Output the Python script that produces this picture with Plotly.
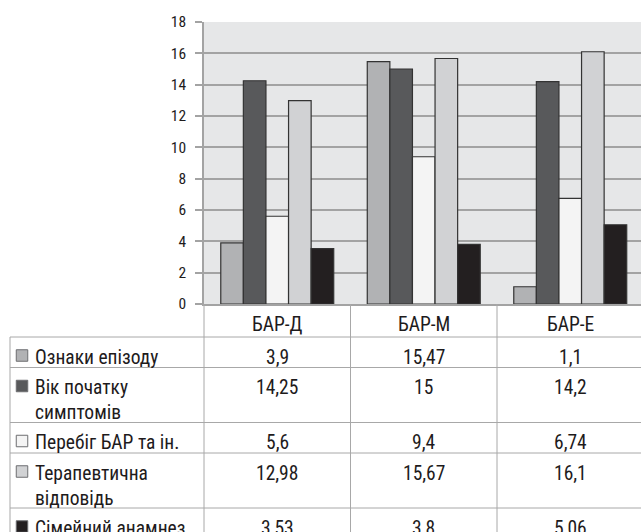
import plotly.graph_objects as go

# ---------------- data ----------------
categories = ["БАР-Д", "БАР-М", "БАР-Е"]
series_names = ["Ознаки епізоду", "Вік початку симптомів", "Перебіг БАР та ін.",
                "Терапевтична відповідь", "Сімейний анамнез"]
series_table_labels = ["Ознаки епізоду", "Вік початку<br>симптомів", "Перебіг БАР та ін.",
                       "Терапевтична<br>відповідь", "Сімейний анамнез"]
oznaky_epizodu = [3.9, 15.47, 1.1]
vik_pochatku = [14.25, 15, 14.2]
perebig_bar = [5.6, 9.4, 6.74]
terapevt_vidpovid = [12.98, 15.67, 16.1]
simeinyi_anamnez = [3.53, 3.8, 5.06]
y_tick_values = [0, 2, 4, 6, 8, 10, 12, 14, 16, 18]

series_values = [oznaky_epizodu, vik_pochatku, perebig_bar, terapevt_vidpovid, simeinyi_anamnez]
series_colors = ["#b1b2b4", "#58595b", "#f4f4f4", "#d1d2d4", "#231f20"]

# ---------------- geometry / style ----------------
W, H = 641, 532
PLOT_L, PLOT_T, PLOT_B = 204, 22, 304
TABLE_L = 10
CAT_W = 146.5
HEADER_H = 33
LINE_H = 24.5
ROW_PAD = 6
TEXT_OFF = 6.5
FONT = "Roboto Condensed, Roboto, sans-serif"
TXT_COL = "#1e1b1c"
GRID_COL = "#a3a3a3"
TABLE_LINE = "#a8a8a8"
TFS = 19.5


def px_to_x(p):
    return (p - PLOT_L) / CAT_W - 0.5


x_right = px_to_x(W)
x_left_full = px_to_x(0)
x_border = px_to_x(TABLE_L)

fig = go.Figure()

for name, vals, col in zip(series_names, series_values, series_colors):
    fig.add_trace(go.Bar(
        x=categories, y=vals, name=name,
        marker=dict(color=col, line=dict(color="#333333", width=1.2)),
        showlegend=False, hoverinfo="name+y",
    ))

# ---------- table (own axes x2/y2, y in px below the plot) ----------
row_lines = [label.count("<br>") + 1 for label in series_table_labels]
row_tops = []
t = HEADER_H
for n in row_lines:
    row_tops.append(t)
    t += ROW_PAD + LINE_H * n
table_bottom = t

shapes = [dict(type="rect", xref="x domain", yref="y domain", x0=0, x1=1, y0=0, y1=1,
               fillcolor="#e6e7e8", line=dict(width=0), layer="below")]
for b in [-0.5, 0.5, 1.5]:
    shapes.append(dict(type="line", xref="x2", yref="y2", x0=b, x1=b, y0=0, y1=table_bottom,
                       line=dict(color=TABLE_LINE, width=1)))
shapes.append(dict(type="line", xref="x2", yref="y2", x0=x_border, x1=x_border,
                   y0=HEADER_H, y1=table_bottom, line=dict(color=TABLE_LINE, width=1)))
for rt in row_tops + [table_bottom]:
    shapes.append(dict(type="line", xref="x2", yref="y2", x0=x_border, x1=x_right + 1, y0=rt, y1=rt,
                       line=dict(color=TABLE_LINE, width=1)))

annotations = []
for i, c in enumerate(categories):
    annotations.append(dict(xref="x2", yref="y2", x=i, y=TEXT_OFF, text=c, showarrow=False,
                            xanchor="center", yanchor="top",
                            font=dict(family=FONT, size=TFS, color=TXT_COL)))


def fmt(v):
    return f"{v:g}".replace(".", ",")


label_x = px_to_x(TABLE_L + 23)
marker_x = px_to_x(TABLE_L + 12)
for rt, lab, vals in zip(row_tops, series_table_labels, series_values):
    annotations.append(dict(xref="x2", yref="y2", x=label_x, y=rt + TEXT_OFF, text=lab, showarrow=False,
                            xanchor="left", yanchor="top", align="left",
                            font=dict(family=FONT, size=TFS, color=TXT_COL)))
    for i, v in enumerate(vals):
        annotations.append(dict(xref="x2", yref="y2", x=i, y=rt + TEXT_OFF, text=fmt(v), showarrow=False,
                                xanchor="center", yanchor="top",
                                font=dict(family=FONT, size=TFS, color=TXT_COL)))

fig.add_trace(go.Scatter(
    x=[marker_x] * len(series_names),
    y=[rt + 18.5 for rt in row_tops],
    xaxis="x2", yaxis="y2", mode="markers",
    marker=dict(symbol="square", size=11.5, color=series_colors, line=dict(color="#6d6e70", width=1)),
    showlegend=False, hoverinfo="skip", cliponaxis=False,
))

fig.update_layout(
    width=W, height=H,
    margin=dict(l=0, r=0, t=0, b=0, pad=0, autoexpand=False),
    paper_bgcolor="white",
    plot_bgcolor="white",
    barmode="group",
    bargap=0.229,
    bargroupgap=0,
    font=dict(family=FONT, color=TXT_COL),
    xaxis=dict(
        domain=[PLOT_L / W, 1],
        range=[-0.5, x_right],
        showticklabels=False,
        ticks="",
        automargin=False,
        showline=True, linecolor=GRID_COL, linewidth=1.5,
        showgrid=False, zeroline=False, fixedrange=True,
    ),
    yaxis=dict(
        domain=[(H - PLOT_B) / H, (H - PLOT_T) / H],
        range=[0, 18],
        tickvals=y_tick_values,
        ticks="outside", ticklen=7, tickcolor=GRID_COL, tickwidth=1.5,
        ticklabelstandoff=6,
        automargin=False,
        tickfont=dict(family=FONT, size=15.5, color=TXT_COL),
        showgrid=True, gridcolor=GRID_COL, gridwidth=1.5,
        showline=True, linecolor=GRID_COL, linewidth=1.5,
        zeroline=False, fixedrange=True,
    ),
    xaxis2=dict(domain=[0, 1], range=[x_left_full, x_right], visible=False, fixedrange=True,
                automargin=False),
    yaxis2=dict(domain=[0, (H - PLOT_B) / H], range=[H - PLOT_B, 0], visible=False, fixedrange=True,
                automargin=False),
    shapes=shapes,
    annotations=annotations,
)

fig.write_html("out.html")
